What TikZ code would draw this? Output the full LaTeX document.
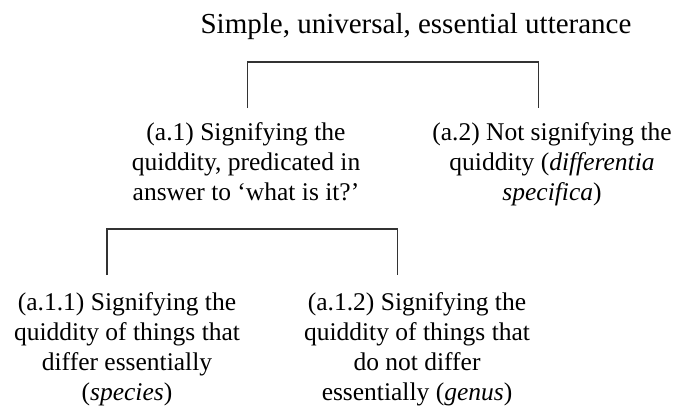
\documentclass[tikz,border=0pt]{standalone}
\usepackage{fontspec}
\setmainfont{Liberation Serif}
\definecolor{linegray}{RGB}{51,51,51}
\begin{document}
\begin{tikzpicture}[x=1pt,y=-1pt,
  branch/.style={inner sep=0pt, align=center, anchor=north,
    font=\fontsize{25.5}{30}\selectfont},
  bracket/.style={draw=linegray, line width=1.2pt}]
\useasboundingbox (0,0) rectangle (681,410);

% root term
\node[inner sep=0pt, anchor=base, font=\fontsize{29}{34}\selectfont]
  (root) at (416,33) {Simple, universal, essential utterance};

% first division
\node[branch] (a1) at (246,122.5)
  {(a.1) Signifying the\\quiddity, predicated in\\answer to ‘what is it?’};
\node[branch] (a2) at (552,122.5)
  {(a.2) Not signifying the\\quiddity (\textit{differentia}\\\textit{specifica})};

% second division
\node[branch] (a11) at (127,292.5)
  {(a.1.1) Signifying the\\quiddity of things that\\differ essentially\\(\textit{species})};
\node[branch] (a12) at (417,292.5)
  {(a.1.2) Signifying the\\quiddity of things that\\do not differ\\essentially (\textit{genus})};

% bracket ends
\coordinate (r1) at (247.5,108);
\coordinate (r2) at (538.5,108);
\coordinate (rbar) at (400,62);
\coordinate (s1) at (107,275);
\coordinate (s2) at (397.5,275);
\coordinate (sbar) at (250,229);

\draw[bracket] (r1) |- (rbar) -| (r2);
\draw[bracket] (s1) |- (sbar) -| (s2);
\end{tikzpicture}
\end{document}
